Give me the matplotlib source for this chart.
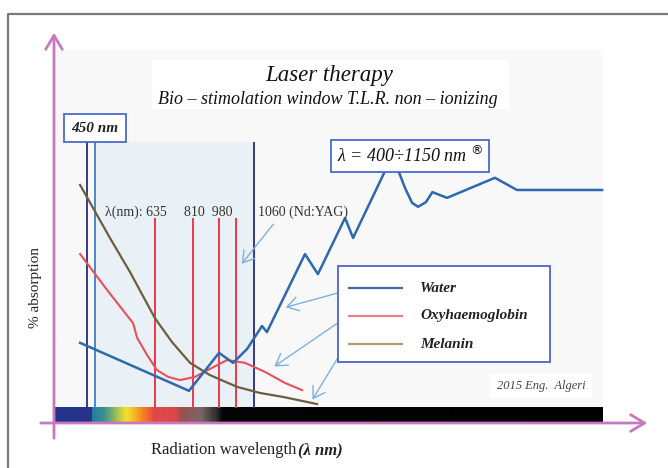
# -*- coding: utf-8 -*-
# Laser therapy - bio-stimulation window (absorption of water, oxyhaemoglobin, melanin)

import numpy as np
import matplotlib
matplotlib.use('Agg')
import matplotlib.pyplot as plt
from matplotlib.colors import LinearSegmentedColormap
from matplotlib.patches import Rectangle, FancyArrowPatch
from matplotlib.lines import Line2D

plt.rcParams['font.family'] = ['Liberation Serif', 'DejaVu Serif']

#====================================================================
# data (x in chart wavelength units, y in % absorption)
water_x = [369, 858, 993, 1056, 1119, 1186, 1208, 1379, 1437, 1559, 1595, 1743, 1770,
           1797, 1828, 1860, 1887, 1922, 1951, 2017, 2232, 2331, 2713]
water_y = [18.2, 4.8, 15.4, 12.6, 16.5, 22.9, 21.2, 43.0, 37.4, 53.1, 47.5, 66.8, 68.4,
           66.5, 61.5, 57.3, 56.2, 57.5, 60.3, 58.7, 64.3, 60.9, 60.9]

oxy_x = [369, 490, 607, 625, 670, 714, 764, 818, 885, 952, 1029, 1110, 1199, 1289, 1366]
oxy_y = [43.0, 33.0, 23.7, 19.6, 14.8, 10.6, 8.7, 7.8, 8.7, 10.9, 13.4, 12.6, 10.1, 7.0, 5.0]

melanin_x = [369, 503, 593, 705, 782, 863, 952, 1074, 1177, 1280, 1433]
melanin_y = [62.3, 47.5, 38.0, 25.1, 18.4, 12.6, 9.2, 5.9, 4.2, 3.1, 1.1]

window_x = [400, 436, 1150]          # 400 nm and 450 nm markers, end of window
laser_x = [705, 876, 993, 1069]      # drawn laser lines
laser_labels = ['635', '810', '980', '1060']

# visible spectrum bar stops (x, colour)
spectrum = [(256, '#27338a'), (413, '#27338a'), (414, '#2878a8'), (472, '#3a9090'),
            (526, '#a0c050'), (571, '#f5e030'), (625, '#f5a020'), (674, '#f06030'),
            (696, '#e04848'), (795, '#d84848'), (818, '#9a5050'), (907, '#7a6666'),
            (975, '#303030'), (1006, '#050505'), (2713, '#000000')]
#====================================================================

W, H = 668, 468
k = 750 / 167.0          # chart units per pixel (x)
ky = 3.58                # pixels per % (y)


def fx(px):
    return px / W


def fy(py):
    return 1 - py / H


fig = plt.figure(figsize=(W / 100, H / 100), dpi=100)
ax = fig.add_axes([0, 0, 1, 1])
ax.set_xlim(400 - 87 * k, 400 + (W - 87) * k)
ax.set_ylim((408 - H) / ky, 408 / ky)
ax.axis('off')

# panel and shaded window
ax.add_patch(Rectangle((256, 0), 2713 - 256, 100, color='#f8f8f8', zorder=0))
ax.fill_between([window_x[1], window_x[2]], 0, 74.3, color='#e9f0f6', zorder=1)

# spectrum bar
pos = [(s[0] - 256) / (2713 - 256.0) for s in spectrum]
cmap = LinearSegmentedColormap.from_list('spec', list(zip(pos, [s[1] for s in spectrum])))
ax.imshow(np.linspace(0, 1, 800)[None, :], cmap=cmap, aspect='auto',
          extent=(256, 2713, -4.2, 0), zorder=2)

# vertical markers
ax.vlines(window_x[0], 0, 74.3, color='#2a2a80', lw=1.3, zorder=3)
ax.vlines(window_x[1], 0, 74.3, color='#3f7fd0', lw=1.3, zorder=3)
ax.vlines(window_x[2], 0, 74.3, color='#2a2a80', lw=1.3, zorder=3)
ax.vlines(laser_x, 0, 53.1, color='#e83a4a', lw=1.4, zorder=3)

# curves
ax.plot(water_x, water_y, color='#2e68ad', lw=1.8, zorder=5)
ax.plot(oxy_x, oxy_y, color='#e8505a', lw=1.5, zorder=4)
ax.plot(melanin_x, melanin_y, color='#6e5e40', lw=1.6, zorder=4)

# frame and pink axes
fig.add_artist(Line2D([fx(8), fx(8), fx(668)], [fy(468), fy(14), fy(14)],
                      color='#7a7a7a', lw=1.6))
pink = '#c878c0'
for p0, p1 in [((54, 441), (54, 30)), ((38, 423), (650, 423))]:
    fig.add_artist(FancyArrowPatch((fx(p0[0]), fy(p0[1])), (fx(p1[0]), fy(p1[1])),
                                   transform=fig.transFigure, arrowstyle='->,head_length=5,head_width=3',
                                   color=pink, lw=2, mutation_scale=2))

# titles
fig.add_artist(Rectangle((fx(152), fy(108)), fx(508) - fx(152), fy(60) - fy(108),
                         transform=fig.transFigure, color='white', zorder=6))
fig.text(fx(329), fy(75), 'Laser therapy', ha='center', va='center',
         style='italic', fontsize=16.5, color='#111111', zorder=7)
fig.text(fx(328), fy(100), 'Bio – stimolation window T.L.R. non – ionizing', ha='center',
         va='center', style='italic', fontsize=13, color='#111111', zorder=7)

# 450 nm box
fig.text(fx(95), fy(128), '450 nm', ha='center', va='center', style='italic',
         weight='bold', fontsize=11, color='#222222', zorder=8,
         bbox=dict(boxstyle='square,pad=0.5', fc='white', ec='#4a6ad0', lw=1.3))

# lambda window box
fig.text(fx(410), fy(156), r'λ = 400÷1150 nm $^{®}$', ha='center', va='center',
         style='italic', fontsize=13, color='#111111', zorder=8,
         bbox=dict(boxstyle='square,pad=0.3', fc='white', ec='#4a6ad0', lw=1.3))

# laser labels
fig.text(fx(105), fy(212), 'λ(nm): ' + laser_labels[0], ha='left', va='center',
         fontsize=10, color='#333333', zorder=7)
fig.text(fx(208), fy(212), laser_labels[1] + '  ' + laser_labels[2], ha='center',
         va='center', fontsize=10, color='#333333', zorder=7)
fig.text(fx(258), fy(212), laser_labels[3] + ' (Nd:YAG)', ha='left', va='center',
         fontsize=10, color='#333333', zorder=7)

arrow_kw = dict(transform=fig.transFigure, arrowstyle='->,head_length=4,head_width=2.5',
                color='#7fb0e0', lw=1, mutation_scale=2)
fig.add_artist(FancyArrowPatch((fx(275), fy(222)), (fx(240), fy(266)), **arrow_kw))

# legend
fig.add_artist(Rectangle((fx(338), fy(362)), fx(550) - fx(338), fy(266) - fy(362),
                         transform=fig.transFigure, fc='white', ec='#5060d0', lw=1.3, zorder=6))
legend_items = [('Water', '#3a6aaa', 288), ('Oxyhaemoglobin', '#e88090', 316),
                ('Melanin', '#b09a70', 344)]
for name, col, py in legend_items:
    fig.add_artist(Line2D([fx(349), fx(402)], [fy(py), fy(py)], color=col, lw=1.6, zorder=7))
    fig.text(fx(420), fy(py), name, ha='left', va='center', style='italic',
             weight='bold', fontsize=11, color='#222222', zorder=7)

for (sx, sy), (ex, ey) in [((345, 291), (283, 308)), ((345, 318), (272, 368)),
                           ((345, 346), (311, 402))]:
    fig.add_artist(FancyArrowPatch((fx(sx), fy(sy)), (fx(ex), fy(ey)), **arrow_kw))

# credit
fig.text(fx(541), fy(386), '2015 Eng.  Algeri', ha='center', va='center', style='italic',
         fontsize=9, color='#444444', zorder=7,
         bbox=dict(boxstyle='square,pad=0.5', fc='white', ec='none'))

# axis labels
fig.text(fx(36), fy(288), '% absorption', rotation=90, ha='center', va='center',
         fontsize=11, color='#222222')
fig.text(fx(151), fy(450), 'Radiation wavelength', ha='left', va='center',
         fontsize=12, color='#222222')
fig.text(fx(298), fy(450), '(λ nm)', ha='left', va='center', style='italic',
         weight='bold', fontsize=12, color='#222222')

fig.savefig('out.png', dpi=100, facecolor='white')
